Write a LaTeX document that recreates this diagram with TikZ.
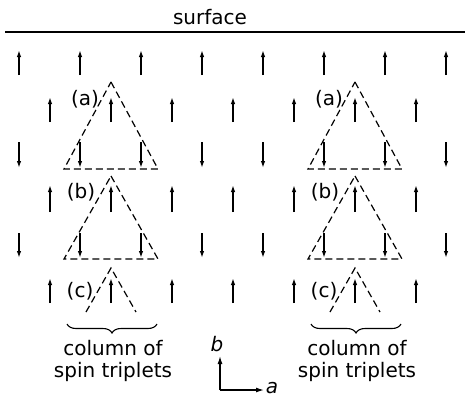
\documentclass[tikz,border=0pt]{standalone}
\usepackage{fontspec}
\setmainfont{DejaVu Sans}
\usetikzlibrary{arrows.meta,decorations.pathreplacing}
\tikzset{
  spin/.style={line width=1.5pt,-{Latex[length=7pt,width=4.5pt]}},
  triplet/.style={line width=1.2pt,dash pattern=on 7pt off 4pt},
  lbl/.style={font=\fontsize{20}{22}\selectfont,inner sep=0pt},
  axe/.style={line width=1.3pt,-{Latex[length=8pt,width=5pt]}},
}
\begin{document}
\begin{tikzpicture}[x=1pt,y=-1pt]
	\useasboundingbox (0,0) rectangle (465,400);
	% surface
	\node[lbl] (surf) at (210,17) {surface};
	\draw[line width=1.3pt] (5,32)--(465,32);
	% spins
	\foreach \i in {0,...,7}{
		\draw[spin] (19+61*\i,75)--(19+61*\i,50);
		\draw[spin] (19+61*\i,142)--(19+61*\i,168);
		\draw[spin] (19+61*\i,233)--(19+61*\i,258);
	}
	\foreach \i in {0,...,6}{
		\draw[spin] (50+61*\i,122)--(50+61*\i,97);
		\draw[spin] (50+61*\i,212)--(50+61*\i,185);
		\draw[spin] (50+61*\i,303)--(50+61*\i,278);
	}
	% triplets
	\foreach \cx/\nm in {111/L,355/R}{
		\draw[triplet] (\cx,82)--(\cx+47,169)--(\cx-47,169)--cycle;
		\draw[triplet] (\cx,176)--(\cx+47,259)--(\cx-47,259)--cycle;
		\draw[triplet] (\cx-25,312)--(\cx,268)--(\cx+25,312);
		\node[lbl] (a\nm) at (\cx-26,99) {(a)};
		\node[lbl] (b\nm) at (\cx-30,192) {(b)};
		\node[lbl] (c\nm) at (\cx-31,291) {(c)};
		\draw[line width=1.1pt,decorate,decoration={brace,mirror,amplitude=9pt}]
			(\cx-44,324)--(\cx+46,324);
		\node[lbl,align=center] (col\nm) at (\cx+2,361) {column of\\spin triplets};
	}
	% axes
	\coordinate (org) at (220,390);
	\coordinate (bbout) at (220,356);
	\coordinate (about) at (264,390);
	\draw[axe] (org)--(bbout);
	\draw[axe] (org)--(about);
	\node[lbl] (blab) at (217,344) {\textit{b}};
	\node[lbl] (alab) at (272,388) {\textit{a}};
\end{tikzpicture}
\end{document}
